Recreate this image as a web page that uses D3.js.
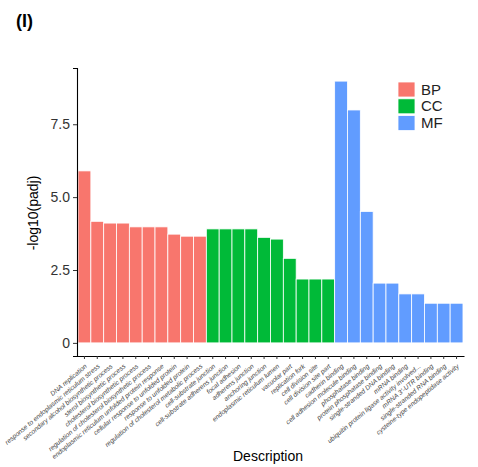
<!DOCTYPE html>
<html>
<head>
<meta charset="utf-8">
<script src="https://cdn.jsdelivr.net/npm/d3@7"></script>
<style>
  body { margin: 0; background: #fff; }
  text { font-family: "Liberation Sans", Arial, sans-serif; }
</style>
</head>
<body>
<div id="chart"></div>
<script>
var bpTerms = ["DNA replication", "response to endoplasmic reticulum stress", "secondary alcohol biosynthetic process",
  "sterol biosynthetic process", "cholesterol biosynthetic process", "regulation of cholesterol biosynthetic process",
  "endoplasmic reticulum unfolded protein response", "cellular response to unfolded protein",
  "response to unfolded protein", "regulation of cholesterol metabolic process"];
var bpValues = [5.90, 4.17, 4.11, 4.11, 3.98, 3.98, 3.98, 3.73, 3.66, 3.66];

var ccTerms = ["cell-substrate junction", "cell-substrate adherens junction", "focal adhesion", "adherens junction",
  "anchoring junction", "endoplasmic reticulum lumen", "vacuolar part", "replication fork",
  "cell division site", "cell division site part"];
var ccValues = [3.91, 3.91, 3.91, 3.91, 3.62, 3.56, 2.90, 2.19, 2.19, 2.19];

var mfTerms = ["cadherin binding", "cell adhesion molecule binding", "phosphatase binding",
  "protein phosphatase binding", "single-stranded DNA binding", "mRNA binding",
  "ubiquitin protein ligase activity involved...", "mRNA 3'-UTR binding", "single-stranded RNA binding",
  "cysteine-type endopeptidase activity"];
var mfValues = [8.98, 7.99, 4.51, 2.05, 2.05, 1.68, 1.68, 1.36, 1.36, 1.36];

var groups = ["BP", "CC", "MF"];
var groupColors = ["#F8766D", "#00BA38", "#619CFF"];
var yTicks = [0, 2.5, 5.0, 7.5];
var yTickLabels = ["0", "2.5", "5.0", "7.5"];

var data = [];
[[bpTerms, bpValues, "BP"], [ccTerms, ccValues, "CC"], [mfTerms, mfValues, "MF"]].forEach(function (g) {
  g[0].forEach(function (t, i) { data.push({ term: t, value: g[1][i], group: g[2] }); });
});

var width = 478, height = 467;
var svg = d3.select('#chart').append('svg')
  .attr('width', width)
  .attr('height', height);

var x = d3.scaleBand()
  .domain(data.map(function (d) { return d.term; }))
  .range([77, 464])
  .paddingInner(0)
  .paddingOuter(0.08);

var y = d3.scaleLinear()
  .domain([-0.45, 9.43])
  .range([356, 68]);

var color = d3.scaleOrdinal().domain(groups).range(groupColors);

// bars
svg.append('g').selectAll('rect').data(data)
  .enter().append('rect')
  .attr('x', function (d) { return x(d.term); })
  .attr('width', x.bandwidth())
  .attr('y', function (d) { return y(d.value); })
  .attr('height', function (d) { return y(0) - y(d.value); })
  .attr('fill', function (d) { return color(d.group); })
  .attr('stroke', '#fff')
  .attr('stroke-width', 0.8);

// y axis
var yAxis = svg.append('g')
  .attr('transform', 'translate(77,0)')
  .call(d3.axisLeft(y).tickValues(yTicks).tickSize(4).tickPadding(3)
    .tickFormat(function (d, i) { return yTickLabels[i]; }));
yAxis.select('.domain').attr('stroke', '#000').attr('stroke-width', 1.1);
yAxis.selectAll('.tick line').attr('stroke', '#333');
yAxis.selectAll('.tick text')
  .attr('fill', '#333')
  .style('font-size', '14px');

// x axis
var xAxis = svg.append('g')
  .attr('transform', 'translate(0,356)')
  .call(d3.axisBottom(x).tickSize(3).tickSizeOuter(0));
xAxis.select('.domain').attr('stroke', '#000').attr('stroke-width', 1.1);
xAxis.selectAll('.tick line').attr('stroke', '#333');
xAxis.selectAll('.tick text')
  .attr('text-anchor', 'end')
  .attr('fill', '#444')
  .attr('y', 0)
  .attr('dy', '0')
  .attr('transform', 'translate(3,11) rotate(-40)')
  .style('font-size', '6.6px')
  .style('font-style', 'italic');

// axis titles
svg.append('text')
  .attr('x', 268).attr('y', 461)
  .attr('text-anchor', 'middle')
  .style('font-size', '14px')
  .text('Description');

svg.append('text')
  .attr('transform', 'translate(38,213) rotate(-90)')
  .attr('text-anchor', 'middle')
  .style('font-size', '14px')
  .text('-log10(padj)');

// panel tag
svg.append('text')
  .attr('x', 16).attr('y', 27)
  .style('font-size', '18px')
  .style('font-weight', 'bold')
  .text('(I)');

// legend
var legend = svg.append('g').attr('transform', 'translate(398,82)');
var item = legend.selectAll('g').data(groups).enter().append('g')
  .attr('transform', function (d, i) { return 'translate(0,' + (i * 16.8) + ')'; });
item.append('rect')
  .attr('width', 17).attr('height', 15)
  .attr('fill', function (d) { return color(d); })
  .attr('stroke', '#fff').attr('stroke-width', 0.8);
item.append('text')
  .attr('x', 23).attr('y', 12.5)
  .style('font-size', '15px')
  .attr('fill', '#222')
  .text(function (d) { return d; });
</script>
</body>
</html>
